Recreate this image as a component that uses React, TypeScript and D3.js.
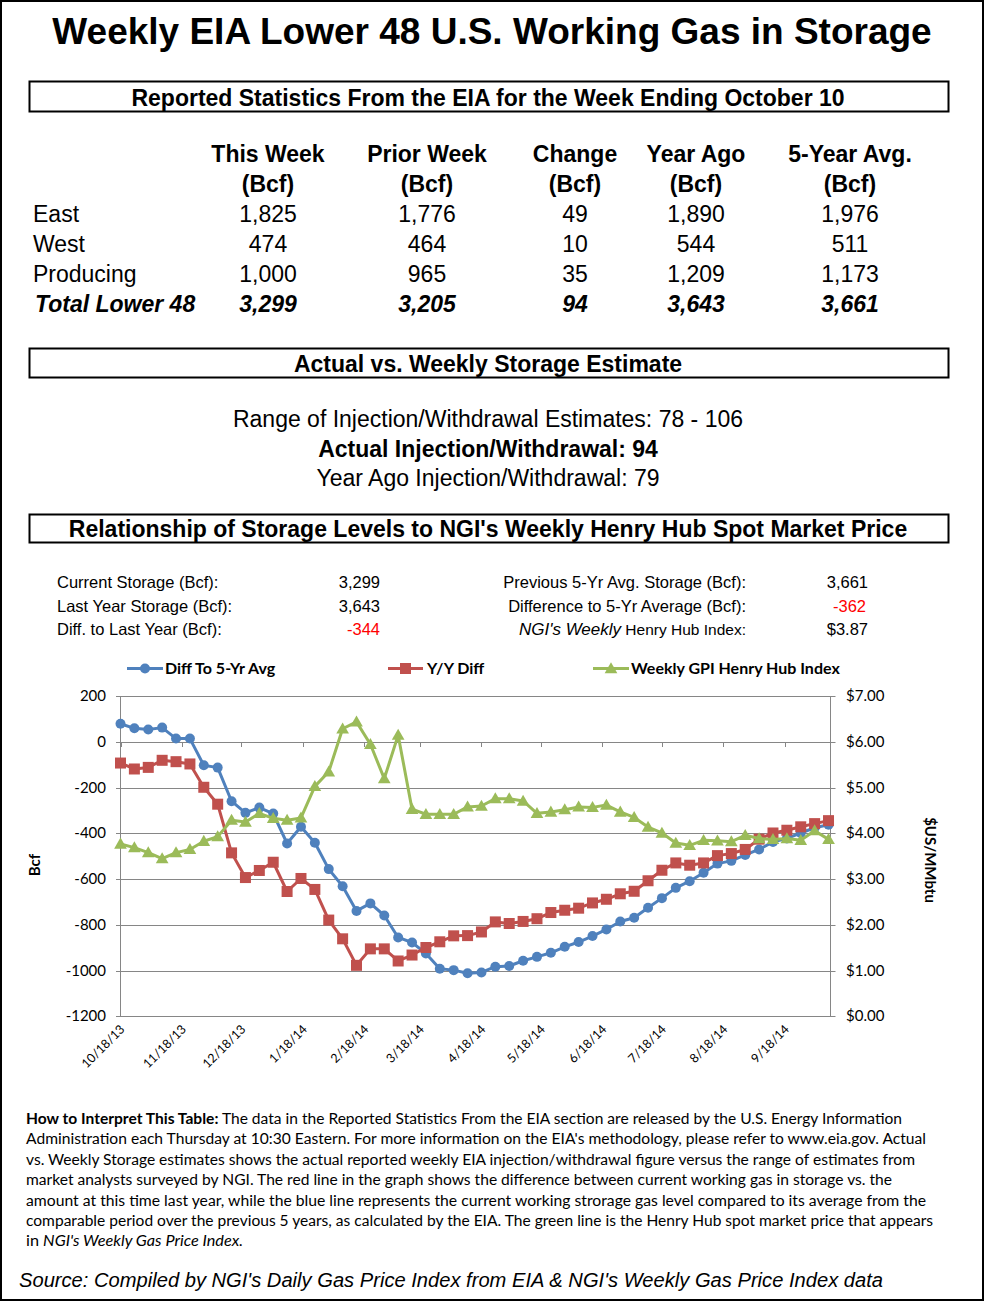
import React from 'react';
import * as d3 from 'd3';

// ---------- DATA ----------
const weekEnding = [
  '10/18/13','10/25/13','11/1/13','11/8/13','11/15/13','11/22/13','11/29/13','12/6/13','12/13/13','12/20/13','12/27/13',
  '1/3/14','1/10/14','1/17/14','1/24/14','1/31/14','2/7/14','2/14/14','2/21/14','2/28/14','3/7/14','3/14/14','3/21/14','3/28/14',
  '4/4/14','4/11/14','4/18/14','4/25/14','5/2/14','5/9/14','5/16/14','5/23/14','5/30/14','6/6/14','6/13/14','6/20/14','6/27/14',
  '7/4/14','7/11/14','7/18/14','7/25/14','8/1/14','8/8/14','8/15/14','8/22/14','8/29/14','9/5/14','9/12/14','9/19/14','9/26/14',
  '10/3/14','10/10/14'
];
const diffTo5YrAvg = [80, 60, 55, 63, 15, 15, -102, -112, -259, -310, -287, -313, -444, -371, -441, -556, -631, -739, -706, -759, -855, -877, -925, -992, -998, -1012, -1008, -983, -980, -957, -940, -922, -896, -875, -849, -820, -785, -769, -725, -683, -638, -609, -572, -532, -520, -494, -470, -437, -422, -398, -375, -362];
const yyDiff = [-92, -118, -111, -80, -86, -96, -198, -272, -485, -593, -562, -526, -654, -597, -645, -779, -861, -977, -905, -905, -958, -932, -899, -874, -848, -847, -831, -787, -794, -785, -773, -746, -736, -727, -704, -688, -664, -653, -607, -561, -529, -539, -529, -497, -488, -470, -425, -398, -386, -371, -357, -344];
const henryHub = [3.77, 3.69, 3.58, 3.45, 3.58, 3.65, 3.83, 3.93, 4.29, 4.25, 4.44, 4.33, 4.29, 4.34, 5.03, 5.35, 6.29, 6.44, 5.95, 5.20, 6.15, 4.53, 4.42, 4.42, 4.42, 4.58, 4.60, 4.76, 4.76, 4.71, 4.44, 4.47, 4.52, 4.58, 4.57, 4.62, 4.47, 4.35, 4.14, 4.01, 3.79, 3.74, 3.85, 3.84, 3.82, 3.96, 3.89, 3.87, 3.89, 3.85, 4.06, 3.87];
const xTickLabels = ['10/18/13','11/18/13','12/18/13','1/18/14','2/18/14','3/18/14','4/18/14','5/18/14','6/18/14','7/18/14','8/18/14','9/18/14'];
const leftTicks = [200, 0, -200, -400, -600, -800, -1000, -1200];
const rightTicks = [7, 6, 5, 4, 3, 2, 1, 0];

const tableCols = ['This Week', 'Prior Week', 'Change', 'Year Ago', '5-Year Avg.'];
const tableRows = ['East', 'West', 'Producing', 'Total Lower 48'];
const tableValues = [
  ['1,825', '1,776', '49', '1,890', '1,976'],
  ['474', '464', '10', '544', '511'],
  ['1,000', '965', '35', '1,209', '1,173'],
  ['3,299', '3,205', '94', '3,643', '3,661'],
];

const noteLines: { t: string; s?: string }[][] = [
  [{ t: 'How to Interpret This Table:', s: 'b' }, { t: ' The data in the Reported Statistics From the EIA section are released by the U.S. Energy Information' }],
  [{ t: "Administration each Thursday at 10:30 Eastern. For more information on the EIA's methodology, please refer to www.eia.gov. Actual" }],
  [{ t: 'vs. Weekly Storage estimates shows the actual reported weekly EIA injection/withdrawal figure versus the range of estimates from' }],
  [{ t: 'market analysts surveyed by NGI. The red  line in the graph shows the difference between current working gas in storage vs. the' }],
  [{ t: 'amount at this time last year, while the blue line represents the current working strorage gas level  compared to its average from the' }],
  [{ t: 'comparable period over the previous 5 years, as calculated by the EIA. The green line is the Henry Hub spot market price that appears' }],
  [{ t: 'in ' }, { t: "NGI's Weekly Gas Price Index.", s: 'i' }],
];
const noteWidths = [876, 900, 889, 866, 900, 907, 217];

// ---------- STYLE ----------
const BLUE = '#4F81BD';
const RED = '#C0504D';
const GREEN = '#9BBB59';
const GRID = '#868686';
const ARIAL = '"Liberation Sans", Arial, sans-serif';
const CAL = 'Lato, "Open Sans", sans-serif';

const parse = d3.utcParse('%m/%d/%y');

export default function App() {
  const dates = weekEnding.map((d) => parse(d) as Date);
  const x = d3.scaleUtc().domain([parse('10/18/13') as Date, parse('10/11/14') as Date]).range([120.5, 830.5]);
  const yL = d3.scaleLinear().domain([-1200, 200]).range([1016.3, 696.3]);
  const yR = d3.scaleLinear().domain([0, 7]).range([1016.3, 696.3]);

  const lineL = d3.line<number>().x((_, i) => x(dates[i])).y((v) => yL(v));
  const lineR = d3.line<number>().x((_, i) => x(dates[i])).y((v) => yR(v));
  const tri = d3.symbol().type(d3.symbolTriangle).size(70)() as string;

  const colX = [268, 427, 575, 696, 850];
  const rowY = [222, 252, 282, 312];

  return (
    <svg width={984} height={1301} style={{ position: 'absolute', left: 0, top: 0, background: '#fff' }}
      fontFamily={ARIAL}>
      <rect x={0} y={0} width={984} height={1301} fill="#fff" />
      <rect x={1} y={1} width={982} height={1299} fill="none" stroke="#000" strokeWidth={2} />

      {/* Title */}
      <text x={492} y={44} textAnchor="middle" fontSize={37} fontWeight="bold">Weekly EIA Lower 48 U.S. Working Gas in Storage</text>

      {/* Box 1 */}
      <rect x={29.5} y={81.5} width={919} height={30} fill="none" stroke="#000" strokeWidth={2} />
      <text x={488} y={106} textAnchor="middle" fontSize={23} fontWeight="bold">Reported Statistics From the EIA for the Week Ending October 10</text>

      {tableCols.map((c, j) => (
        <g key={c}>
          <text x={colX[j]} y={162} textAnchor="middle" fontSize={23} fontWeight="bold">{c}</text>
          <text x={colX[j]} y={192} textAnchor="middle" fontSize={23} fontWeight="bold">(Bcf)</text>
        </g>
      ))}
      {tableRows.map((r, i) => {
        const tot = i === 3;
        return (
          <g key={r} fontWeight={tot ? 'bold' : 'normal'} fontStyle={tot ? 'italic' : 'normal'} fontSize={23}>
            <text x={tot ? 35 : 33} y={rowY[i]}>{r}</text>
            {tableValues[i].map((v, j) => (
              <text key={j} x={colX[j]} y={rowY[i]} textAnchor="middle">{v}</text>
            ))}
          </g>
        );
      })}

      {/* Box 2 */}
      <rect x={29.5} y={348.5} width={919} height={29} fill="none" stroke="#000" strokeWidth={2} />
      <text x={488} y={372} textAnchor="middle" fontSize={23} fontWeight="bold">Actual vs. Weekly Storage Estimate</text>
      <text x={488} y={427} textAnchor="middle" fontSize={23}>Range of Injection/Withdrawal Estimates: 78 - 106</text>
      <text x={488} y={457} textAnchor="middle" fontSize={23} fontWeight="bold">Actual Injection/Withdrawal: 94</text>
      <text x={488} y={486} textAnchor="middle" fontSize={23}>Year Ago Injection/Withdrawal: 79</text>

      {/* Box 3 */}
      <rect x={29.5} y={514.5} width={919} height={28} fill="none" stroke="#000" strokeWidth={2} />
      <text x={488} y={537} textAnchor="middle" fontSize={23} fontWeight="bold">Relationship of Storage Levels to NGI's Weekly Henry Hub Spot Market Price</text>

      {/* Stats */}
      <g fontSize={16.5}>
        <text x={57} y={588}>Current Storage (Bcf):</text>
        <text x={380} y={588} textAnchor="end">3,299</text>
        <text x={57} y={611.5}>Last Year Storage (Bcf):</text>
        <text x={380} y={611.5} textAnchor="end">3,643</text>
        <text x={57} y={635}>Diff. to Last Year (Bcf):</text>
        <text x={380} y={635} textAnchor="end" fill="#FF0000">-344</text>

        <text x={746} y={588} textAnchor="end">Previous 5-Yr Avg. Storage (Bcf):</text>
        <text x={868} y={588} textAnchor="end">3,661</text>
        <text x={746} y={611.5} textAnchor="end">Difference to 5-Yr Average (Bcf):</text>
        <text x={866} y={611.5} textAnchor="end" fill="#FF0000">-362</text>
        <text x={746} y={635} textAnchor="end"><tspan fontStyle="italic" fontSize={17}>NGI's Weekly</tspan><tspan fontSize={15.5}>  Henry Hub Index:</tspan></text>
        <text x={868} y={635} textAnchor="end">$3.87</text>
      </g>

      {/* Legend */}
      <g fontFamily={CAL} fontWeight="bold" fontSize={16}>
        <line x1={127} x2={163} y1={668.5} y2={668.5} stroke={BLUE} strokeWidth={3} />
        <circle cx={145} cy={668.5} r={5} fill={BLUE} />
        <text x={165} y={674}>Diff To 5-Yr Avg</text>
        <line x1={388} x2={423} y1={668.5} y2={668.5} stroke={RED} strokeWidth={3} />
        <rect x={400} y={663} width={11} height={11} fill={RED} />
        <text x={427} y={674}>Y/Y Diff</text>
        <line x1={593} x2={629} y1={668.5} y2={668.5} stroke={GREEN} strokeWidth={3} />
        <path d={tri} transform="translate(611,669.5)" fill={GREEN} />
        <text x={631} y={674}>Weekly GPI Henry Hub Index</text>
      </g>

      {/* Grid & axes */}
      <g>
        {leftTicks.map((t) => (
          <line key={t} x1={116} x2={835.5} y1={Math.round(yL(t)) + 0.5} y2={Math.round(yL(t)) + 0.5} stroke={GRID} strokeWidth={1} />
        ))}
        <line x1={120.5} x2={120.5} y1={yL(200)} y2={yL(-1200)} stroke={GRID} />
        <line x1={830.5} x2={830.5} y1={yR(7)} y2={yR(0)} stroke={GRID} />
        {xTickLabels.map((l) => {
          const d = parse(l) as Date;
          const px = Math.round(x(d)) + 0.5;
          return <line key={l} x1={px} x2={px} y1={yL(0)} y2={yL(0) + 5} stroke={GRID} />;
        })}
      </g>
      <g fontFamily={CAL} fontSize={15} fill="#000">
        {leftTicks.map((t) => (
          <text key={t} x={106} y={yL(t) + 5} textAnchor="end">{t}</text>
        ))}
        {rightTicks.map((t) => (
          <text key={t} x={846} y={yR(t) + 5}>{d3.format('$.2f')(t)}</text>
        ))}
        {xTickLabels.map((l) => {
          const d = parse(l) as Date;
          return (
            <text key={l} fontSize={12.5} textAnchor="end" transform={`translate(${x(d) + 5},${1030}) rotate(-45)`}>{l}</text>
          );
        })}
        <text fontWeight="bold" fontSize={15} textAnchor="middle" transform="translate(40,865) rotate(-90)">Bcf</text>
        <text fontWeight="bold" fontSize={15} textAnchor="middle" transform="translate(925,860) rotate(90)">$US/MMbtu</text>
      </g>

      {/* Series */}
      <path d={lineL(diffTo5YrAvg) as string} fill="none" stroke={BLUE} strokeWidth={3} strokeLinejoin="round" />
      {diffTo5YrAvg.map((v, i) => (
        <circle key={i} cx={x(dates[i])} cy={yL(v)} r={5} fill={BLUE} />
      ))}
      <path d={lineL(yyDiff) as string} fill="none" stroke={RED} strokeWidth={3} strokeLinejoin="round" />
      {yyDiff.map((v, i) => (
        <rect key={i} x={x(dates[i]) - 5.5} y={yL(v) - 5.5} width={11} height={11} fill={RED} />
      ))}
      <path d={lineR(henryHub) as string} fill="none" stroke={GREEN} strokeWidth={3} strokeLinejoin="round" />
      {henryHub.map((v, i) => (
        <path key={i} d={tri} transform={`translate(${x(dates[i])},${yR(v) + 1})`} fill={GREEN} />
      ))}

      {/* Notes */}
      <g fontFamily={CAL} fontSize={14.5} style={{ whiteSpace: 'pre' }}>
        {noteLines.map((segs, i) => (
          <text key={i} x={26} y={1124 + i * 20.4} textLength={noteWidths[i]} lengthAdjust="spacingAndGlyphs">
            {segs.map((s, k) => (
              <tspan key={k} fontWeight={s.s === 'b' ? 'bold' : 'normal'} fontStyle={s.s === 'i' ? 'italic' : 'normal'}>{s.t}</tspan>
            ))}
          </text>
        ))}
      </g>
      <text x={19} y={1287} fontSize={20} fontStyle="italic" textLength={864} lengthAdjust="spacingAndGlyphs">Source: Compiled by NGI's Daily Gas Price Index from EIA &amp; NGI's Weekly Gas Price Index data</text>
    </svg>
  );
}
